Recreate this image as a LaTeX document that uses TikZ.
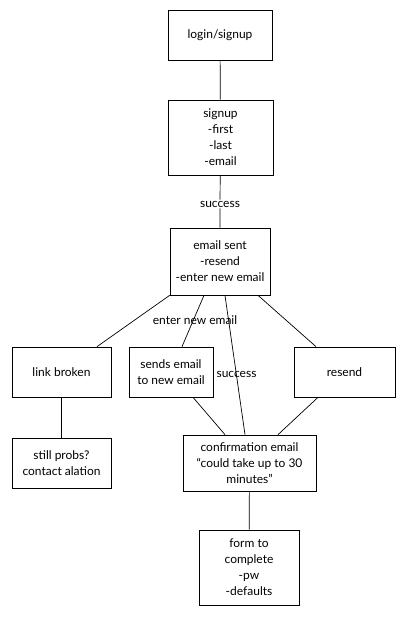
\documentclass[tikz,border=0pt]{standalone}
\usepackage{fontspec}
\setmainfont{Lato}
\usetikzlibrary{positioning}

\begin{document}
\begin{tikzpicture}[x=1pt,y=-1pt,line width=0.7pt,
    box/.style={draw,align=center,inner sep=0pt,font=\fontsize{12}{16}\selectfont},
    lbl/.style={align=center,inner sep=1pt,font=\fontsize{12}{16}\selectfont}]
                \useasboundingbox (0,0) rectangle (406,617);
                \node [box,minimum width=104pt,minimum height=50pt] (login) at (220,35) {login/signup};
                \node [box,minimum width=105pt,minimum height=75pt] (signup) at (220.5,137.5) {signup\\-first\\-last\\-email};
                \node [lbl] (succ) at (220,204) {success};
                \node [box,minimum width=100pt,minimum height=67pt] (mail) at (220,261.5) {email sent\\-resend\\-enter new email};
                \node [box,minimum width=99pt,minimum height=50pt] (broken) at (61.5,372) {link broken};
                \node [box,minimum width=84pt,minimum height=50pt] (sends) at (171,372) {sends email\\to new email};
                \node [box,minimum width=101pt,minimum height=50pt] (resend) at (344.5,372) {resend};
                \node [box,minimum width=99pt,minimum height=50pt] (probs) at (61.5,463) {still probs?\\contact alation};
                \node [box,minimum width=133pt,minimum height=56pt] (confirm) at (249.5,463) {confirmation email\\“could take up to 30\\minutes”};
                \node [box,minimum width=100pt,minimum height=75pt] (form) at (249,567.5) {form to\\complete\\-pw\\-defaults};
                \draw (login) -- (signup);
                \draw (signup) -- (succ) -- (mail);
                \draw (mail.south west) -- ([xshift=35.5pt]broken.north);
                \draw ([xshift=-16pt]mail.south) -- ([xshift=11pt]sends.north);
                \draw ([xshift=5pt]mail.south) -- ([xshift=-4.5pt]confirm.north);
                \draw ([xshift=38pt]mail.south) -- ([xshift=-28.5pt]resend.north);
                \draw ([xshift=22pt]sends.south) -- ([xshift=-24.5pt]confirm.north);
                \draw ([xshift=-26.5pt]resend.south) -- ([xshift=28.5pt]confirm.north);
                \draw (broken) -- (probs);
                \draw (confirm) -- (form);
                \node [lbl] (enter) at (195,320) {enter new email};
                \node [lbl] (succ2) at (236.5,374) {success};
            \end{tikzpicture}
\end{document}
